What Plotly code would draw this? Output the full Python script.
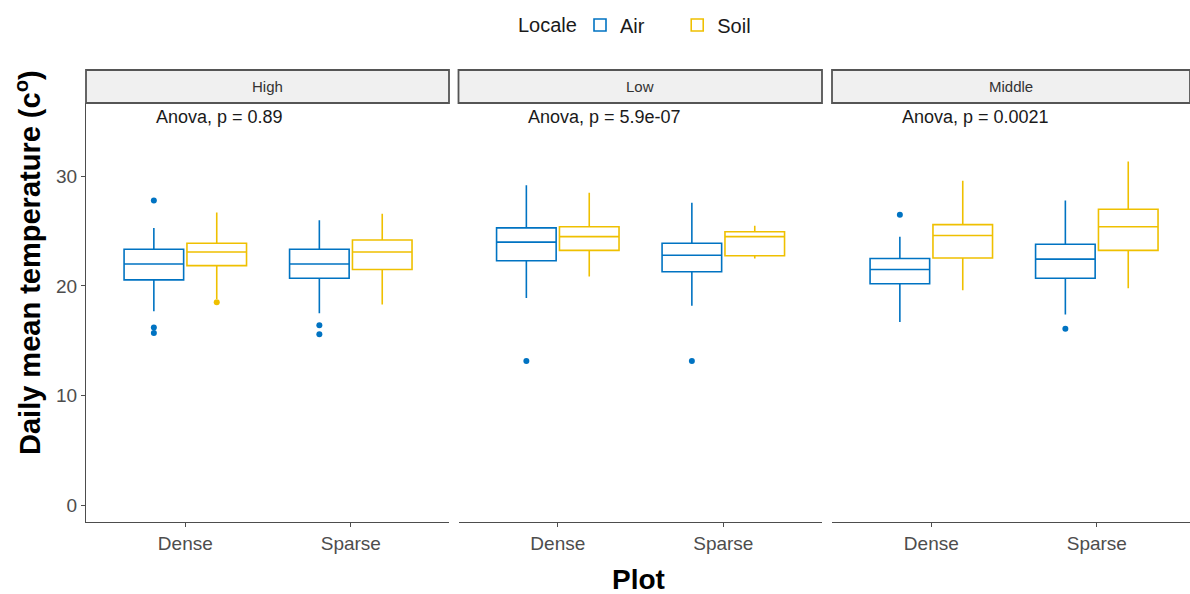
import plotly.graph_objects as go

# ---------------- data ----------------
panels = ["High", "Low", "Middle"]
plots = ["Dense", "Sparse"]
anova_labels = ["Anova, p = 0.89", "Anova, p = 5.9e-07", "Anova, p = 0.0021"]

# order: High-Dense, High-Sparse, Low-Dense, Low-Sparse, Middle-Dense, Middle-Sparse
air_lower = [17.7, 17.5, 18.9, 18.2, 16.7, 17.4]
air_q1 = [20.55, 20.7, 22.3, 21.3, 20.2, 20.7]
air_median = [22.0, 22.0, 24.0, 22.8, 21.5, 22.45]
air_q3 = [23.35, 23.35, 25.3, 23.9, 22.5, 23.8]
air_upper = [25.3, 26.0, 29.2, 27.6, 24.5, 27.8]

soil_lower = [18.8, 18.3, 20.85, 22.5, 19.6, 19.8]
soil_q1 = [21.85, 21.5, 23.25, 22.75, 22.55, 23.25]
soil_median = [23.1, 23.1, 24.5, 24.5, 24.6, 25.4]
soil_q3 = [23.9, 24.2, 25.4, 24.95, 25.6, 27.0]
soil_upper = [26.7, 26.6, 28.5, 25.5, 29.6, 31.35]

air_outlier_idx = [0, 0, 0, 1, 1, 2, 3, 4, 5]
air_outlier_val = [27.8, 16.2, 15.7, 16.4, 15.6, 13.15, 13.15, 26.5, 16.1]
soil_outlier_idx = [0]
soil_outlier_val = [18.5]

AIR = "#0073C2"
SOIL = "#EFC000"

# ---------------- layout geometry ----------------
W, H = 1190, 594
px_domains = [(86, 449), (458.5, 822), (832, 1190)]
px_per_unit = 165.5
y_top_px, y_bot_px = 103, 522
strip_top_px = 70
y_range = [-1.55, 36.7]
dodge = 0.19
box_w = 0.36

fig = go.Figure()

def xname(i):
    return "x" if i == 0 else f"x{i+1}"

for p in range(3):
    xa = xname(p)
    for loc, label, col, lo, q1, md, q3, up, off in [
        ("Air", "Air\u00a0\u00a0\u00a0\u00a0\u00a0", AIR, air_lower, air_q1, air_median, air_q3, air_upper, -dodge),
        ("Soil", "Soil", SOIL, soil_lower, soil_q1, soil_median, soil_q3, soil_upper, dodge),
    ]:
        idx = [2 * p, 2 * p + 1]
        xs = [k + 1 + off for k in range(2)]
        fig.add_trace(go.Box(
            x=xs,
            lowerfence=[lo[i] for i in idx],
            q1=[q1[i] for i in idx],
            median=[md[i] for i in idx],
            q3=[q3[i] for i in idx],
            upperfence=[up[i] for i in idx],
            width=box_w,
            whiskerwidth=0,
            line=dict(color=col, width=1.6),
            fillcolor="rgba(255,255,255,0)",
            name=label,
            legendgroup=loc,
            showlegend=(p == 0),
            boxpoints=False,
            xaxis=xa, yaxis="y",
        ))
    # outliers
    for col, oidx, oval, off in [
        (AIR, air_outlier_idx, air_outlier_val, -dodge),
        (SOIL, soil_outlier_idx, soil_outlier_val, dodge),
    ]:
        xs, ys = [], []
        for i, v in zip(oidx, oval):
            if i // 2 == p:
                xs.append(i % 2 + 1 + off)
                ys.append(v)
        if xs:
            fig.add_trace(go.Scatter(
                x=xs, y=ys, mode="markers",
                marker=dict(color=col, size=6),
                showlegend=False, hoverinfo="y",
                xaxis=xa, yaxis="y",
            ))

layout = dict(
    width=W, height=H,
    margin=dict(l=0, r=0, t=0, b=0),
    plot_bgcolor="white", paper_bgcolor="white",
    font=dict(family="Liberation Sans, Arial, sans-serif", color="#4D4D4D"),
    showlegend=True,
    legend=dict(
        orientation="h", x=580 / W, xanchor="left", y=1 - 25 / H, yanchor="middle",
        font=dict(size=20, color="#1A1A1A"),
        itemwidth=30, tracegroupgap=0,
    ),
)

ydom = [1 - y_bot_px / H, 1 - y_top_px / H]
layout["yaxis"] = dict(
    domain=ydom, range=y_range, tickvals=[0, 10, 20, 30],
    showline=True, linecolor="#4D4D4D", linewidth=1.3,
    ticks="outside", ticklen=4, tickcolor="#4D4D4D", tickwidth=1.2,
    tickfont=dict(size=19, color="#4D4D4D"),
    showgrid=False, zeroline=False, anchor="x",
)

shapes = []
annotations = []
for p, (a, b) in enumerate(px_domains):
    key = "xaxis" if p == 0 else f"xaxis{p+1}"
    r0 = 0.4
    r1 = r0 + (b - a) / px_per_unit
    layout[key] = dict(
        domain=[a / W, b / W], range=[r0, r1], anchor="y",
        tickvals=[1, 2], ticktext=plots,
        showline=True, linecolor="#4D4D4D", linewidth=1.3,
        ticks="outside", ticklen=4, tickcolor="#4D4D4D", tickwidth=1.2,
        tickfont=dict(size=19, color="#4D4D4D"),
        showgrid=False, zeroline=False,
    )
    shapes.append(dict(
        type="rect", xref="paper", yref="paper",
        x0=a / W, x1=b / W, y0=1 - y_top_px / H, y1=1 - strip_top_px / H,
        fillcolor="#F0F0F0", line=dict(color="#555555", width=1.8), layer="above",
    ))
    annotations.append(dict(
        text=panels[p], xref="paper", yref="paper",
        x=(a + b) / 2 / W, y=1 - (strip_top_px + y_top_px) / 2 / H,
        xanchor="center", yanchor="middle", showarrow=False,
        font=dict(size=15, color="#333333"),
    ))
    annotations.append(dict(
        text=anova_labels[p], xref=xname(p), yref="y",
        x=0.81, y=35.4, xanchor="left", yanchor="middle", showarrow=False,
        font=dict(size=18, color="#1A1A1A"),
    ))

annotations.append(dict(
    text="Locale", xref="paper", yref="paper",
    x=516 / W, y=1 - 25 / H, xanchor="left", yanchor="middle",
    showarrow=False, font=dict(size=20, color="#1A1A1A"),
))
annotations.append(dict(
    text="<b>Daily mean temperature (c<sup>o</sup>)</b>", xref="paper", yref="paper",
    x=28 / W, y=1 - 263 / H, xanchor="center", yanchor="middle",
    textangle=-90, showarrow=False, font=dict(size=29, color="#000000"),
))
annotations.append(dict(
    text="<b>Plot</b>", xref="paper", yref="paper",
    x=638 / W, y=1 - 579 / H, xanchor="center", yanchor="middle",
    showarrow=False, font=dict(size=28, color="#000000"),
))

layout["shapes"] = shapes
layout["annotations"] = annotations
fig.update_layout(**layout)

fig.write_html("out.html")
